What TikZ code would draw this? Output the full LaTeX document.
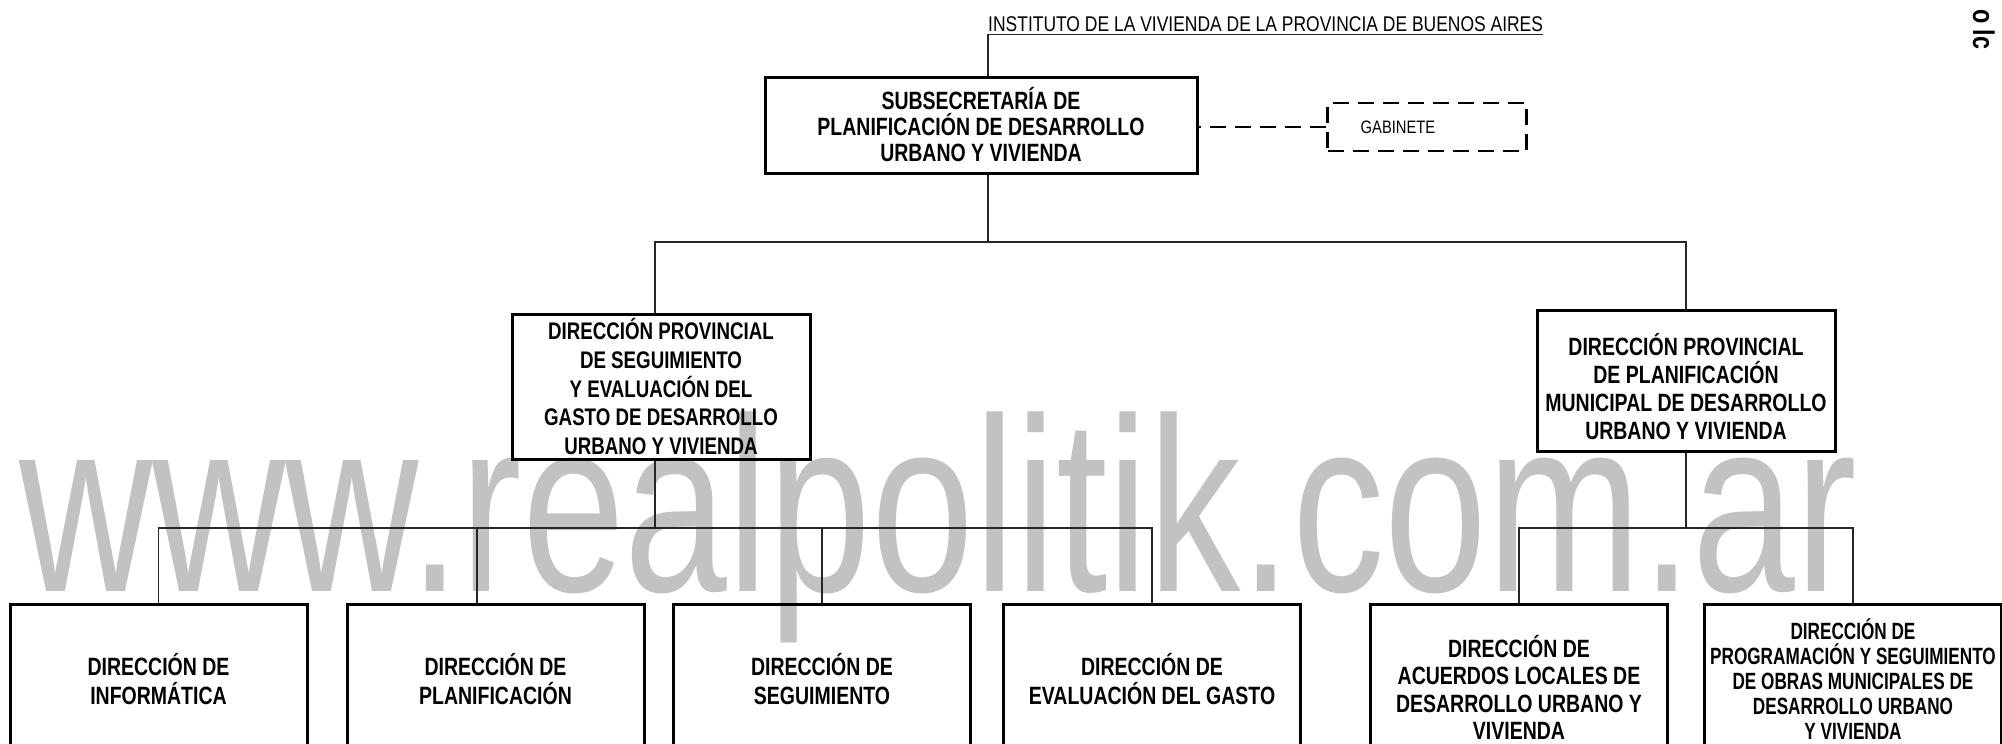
\documentclass[tikz,border=0pt]{standalone}
\usepackage{fontspec}
\setmainfont[FakeStretch=0.78]{Liberation Sans}
\newfontfamily\narrowfont[FakeStretch=0.73]{Liberation Sans}
\newfontfamily\lblfont[FakeStretch=0.82]{Liberation Sans}
\newfontfamily\wmfont[FakeStretch=0.745]{Liberation Sans}
\begin{document}
\begin{tikzpicture}[x=1pt,y=-1pt,
  box/.style={draw=black, line width=3pt, inner sep=0pt, align=center,
    font=\bfseries\fontsize{25}{28}\selectfont},
  bbox/.style={draw=black, line width=3pt, inner sep=0pt, anchor=north,
    minimum width=297pt, minimum height=260pt},
  btext/.style={inner sep=0pt, align=center,
    font=\bfseries\fontsize{25}{29}\selectfont},
  conn/.style={draw=black!85, line width=1.6pt},
  dashconn/.style={draw=black, line width=2.5pt, dash pattern=on 16pt off 9pt},
  lbl/.style={inner xsep=0pt, inner ysep=3pt, font=\lblfont\fontsize{21.3}{23}\selectfont},
  wm/.style={inner sep=0pt, text=black!24, font=\wmfont\fontsize{248}{248}\selectfont}]
\useasboundingbox (0,0) rectangle (2002,744);
\clip (0,0) rectangle (2002,744);
\fill[white] (0,0) rectangle (2002,744);

% watermark
\node[wm, anchor=base west] (wm) at (19,591) {www.realpolitik.com.ar};

% corner fragment
\node[rotate=-90, inner sep=0pt, anchor=base west,
  font=\bfseries\fontsize{30}{30}\selectfont] (corner) at (1973,9) {o lc};

% header
\node[lbl, anchor=base west] (inst) at (988,31) {INSTITUTO DE LA VIVIENDA DE LA PROVINCIA DE BUENOS AIRES};

% top
\node[box, minimum width=432pt, minimum height=96pt,
  font=\bfseries\fontsize{25}{26}\selectfont] (top) at (981,125)
  {SUBSECRETARÍA DE\\PLANIFICACIÓN DE DESARROLLO\\URBANO Y VIVIENDA};
\node[draw=black, line width=2.5pt, dash pattern=on 16pt off 9pt,
  minimum width=199pt, minimum height=48pt, inner sep=0pt,
  font=\lblfont\fontsize{18}{20}\selectfont] (gab) at (1427,127) {GABINETE\hspace*{58pt}\null};

% second level
\node[box, minimum width=298pt, minimum height=145pt,
  font=\bfseries\fontsize{24}{28.7}\selectfont] (ldp) at (661,386.5)
  {DIRECCIÓN PROVINCIAL\\DE SEGUIMIENTO\\Y EVALUACIÓN DEL\\GASTO DE DESARROLLO\\URBANO Y VIVIENDA};
\node[box, minimum width=298pt, minimum height=141pt] (rdp) at (1686,380.5) {};
\node[btext, font=\bfseries\fontsize{25}{28}\selectfont] (rdpt) at (1686,387)
  {DIRECCIÓN PROVINCIAL\\DE PLANIFICACIÓN\\MUNICIPAL DE DESARROLLO\\URBANO Y VIVIENDA};

% third level
\node[bbox] (b1) at (158.5,603) {};
\node[bbox] (b2) at (495.5,603) {};
\node[bbox] (b3) at (822,603) {};
\node[bbox] (b4) at (1152,603) {};
\node[bbox] (b5) at (1519,603) {};
\node[bbox] (b6) at (1853,603) {};
\node[btext] (t1) at (158.5,679) {DIRECCIÓN DE\\INFORMÁTICA};
\node[btext] (t2) at (495.5,679) {DIRECCIÓN DE\\PLANIFICACIÓN};
\node[btext] (t3) at (822,679) {DIRECCIÓN DE\\SEGUIMIENTO};
\node[btext] (t4) at (1152,679) {DIRECCIÓN DE\\EVALUACIÓN DEL GASTO};
\node[btext, anchor=south, font=\bfseries\fontsize{25}{27.5}\selectfont] (t5) at (1519,740)
  {DIRECCIÓN DE\\ACUERDOS LOCALES DE\\DESARROLLO URBANO Y\\VIVIENDA};
\node[btext, font=\narrowfont\bfseries\fontsize{23.5}{25}\selectfont] (t6) at (1853,679)
  {DIRECCIÓN DE\\PROGRAMACIÓN Y SEGUIMIENTO\\DE OBRAS MUNICIPALES DE\\DESARROLLO URBANO\\Y VIVIENDA};

% junctions
\coordinate (jtop) at (988,242);
\coordinate (jl) at (655,528);
\coordinate (jr) at (1686,528);

% connectors
\draw[conn] (inst.south west) -- (inst.south east);
\draw[conn] (inst.south west) -- (top.north -| inst.south west);
\draw[dashconn] (gab.west) -- (gab.west -| top.east);
\draw[conn] (top.south -| jtop) -- (jtop);
\draw[conn] (ldp.north -| jl) -- (jl |- jtop) -- (rdp.north |- jtop) -- (rdp.north);
\draw[conn] (ldp.south -| jl) -- (jl);
\draw[conn] (b1.north) -- (b1.north |- jl) -- (b4.north |- jl) -- (b4.north);
\draw[conn] ([xshift=-18.5pt]b2.north) -- ([xshift=-18.5pt]b2.north |- jl);
\draw[conn] (b3.north) -- (b3.north |- jl);
\draw[conn] (rdp.south) -- (jr);
\draw[conn] (b5.north) -- (b5.north |- jr) -- (b6.north |- jr) -- (b6.north);
\end{tikzpicture}
\end{document}
